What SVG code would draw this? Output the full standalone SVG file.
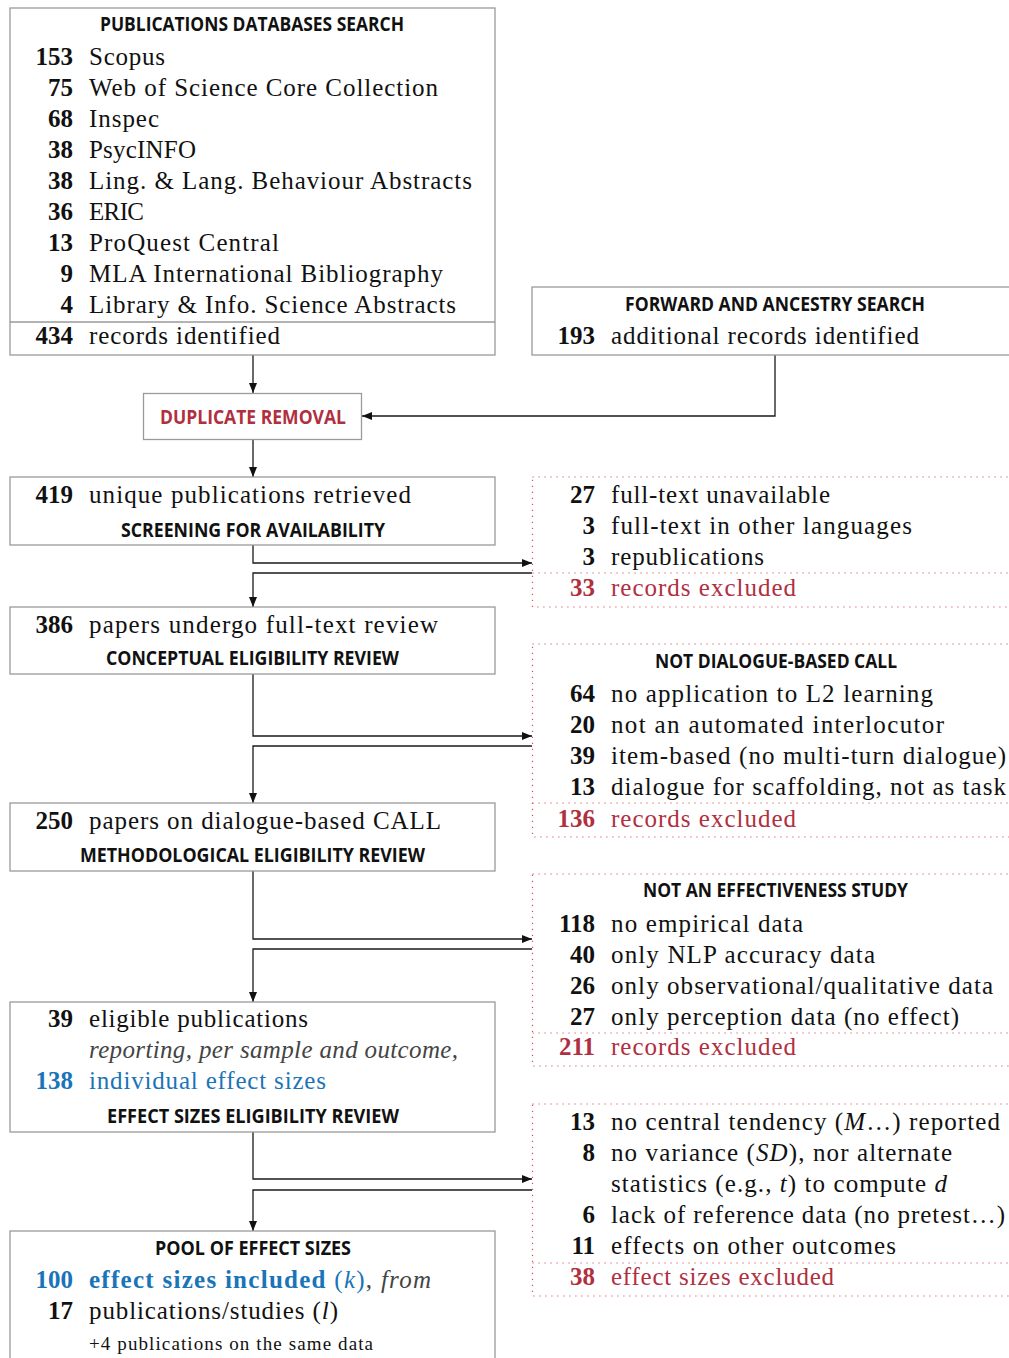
<svg xmlns="http://www.w3.org/2000/svg" width="1009" height="1358" viewBox="0 0 1009 1358">
<defs>
<marker id="arr" markerWidth="10" markerHeight="8" refX="10" refY="4" orient="auto" markerUnits="userSpaceOnUse">
<path d="M0,0 L10,4 L0,8 z" fill="#111"/>
</marker>
<style>
.box{fill:#fff;stroke:#9a9a9a;stroke-width:1.3}
.div{stroke:#9a9a9a;stroke-width:1.3}
.ex{fill:none;stroke:#d9505e;stroke-width:1.2;stroke-dasharray:1.2 4.8}
.exd{stroke:#d9505e;stroke-width:1.2;stroke-dasharray:1.2 4.8}
.con{fill:none;stroke:#1a1a1a;stroke-width:1.3}
.t{font-family:"Liberation Serif","Times New Roman",serif;font-size:25px;fill:#111}
.n{font-weight:bold;text-anchor:end}
.h{font-family:"Open Sans","Liberation Sans",sans-serif;font-weight:700;font-size:20px;fill:#111}
.red{fill:#b0303f}
.blue{fill:#1a74b8}
.it{font-style:italic}
.gray{fill:#444}
.sm{font-size:19px}
</style>
</defs>

<g id="connectors">
<path class="con" d="M253 355 V393" marker-end="url(#arr)"/>
<path class="con" d="M775 355 V416 H362" marker-end="url(#arr)"/>
<path class="con" d="M253 439 V477" marker-end="url(#arr)"/>
<path class="con" d="M253 545 V563 H532" marker-end="url(#arr)"/>
<path class="con" d="M532 573 H253 V607" marker-end="url(#arr)"/>
<path class="con" d="M253 674 V736 H532" marker-end="url(#arr)"/>
<path class="con" d="M532 746 H253 V803" marker-end="url(#arr)"/>
<path class="con" d="M253 871 V939 H532" marker-end="url(#arr)"/>
<path class="con" d="M532 949 H253 V1002" marker-end="url(#arr)"/>
<path class="con" d="M253 1132 V1179 H532" marker-end="url(#arr)"/>
<path class="con" d="M532 1190 H253 V1231" marker-end="url(#arr)"/>
</g>

<g id="databases">
<rect class="box" x="10" y="8" width="485" height="347"/>
<line class="div" x1="10" y1="322" x2="495" y2="322"/>
<text class="h" x="100" y="31" textLength="304" lengthAdjust="spacingAndGlyphs">PUBLICATIONS DATABASES SEARCH</text>
<text class="t n" x="73" y="65">153</text><text class="t" x="89" y="65" textLength="76" lengthAdjust="spacing">Scopus</text>
<text class="t n" x="73" y="96">75</text><text class="t" x="89" y="96" textLength="349" lengthAdjust="spacing">Web of Science Core Collection</text>
<text class="t n" x="73" y="127">68</text><text class="t" x="89" y="127" textLength="70" lengthAdjust="spacing">Inspec</text>
<text class="t n" x="73" y="158">38</text><text class="t" x="89" y="158" textLength="107" lengthAdjust="spacing">PsycINFO</text>
<text class="t n" x="73" y="189">38</text><text class="t" x="89" y="189" textLength="383" lengthAdjust="spacing">Ling. &amp; Lang. Behaviour Abstracts</text>
<text class="t n" x="73" y="220">36</text><text class="t" x="89" y="220" textLength="55" lengthAdjust="spacing">ERIC</text>
<text class="t n" x="73" y="251">13</text><text class="t" x="89" y="251" textLength="190" lengthAdjust="spacing">ProQuest Central</text>
<text class="t n" x="73" y="282">9</text><text class="t" x="89" y="282" textLength="354" lengthAdjust="spacing">MLA International Bibliography</text>
<text class="t n" x="73" y="313">4</text><text class="t" x="89" y="313" textLength="367" lengthAdjust="spacing">Library &amp; Info. Science Abstracts</text>
<text class="t n" x="73" y="344">434</text><text class="t" x="89" y="344" textLength="191" lengthAdjust="spacing">records identified</text>
</g>

<g id="forward">
<rect class="box" x="532" y="287" width="520" height="68"/>
<text class="h" x="625" y="311" textLength="300" lengthAdjust="spacingAndGlyphs">FORWARD AND ANCESTRY SEARCH</text>
<text class="t n" x="595" y="344">193</text><text class="t" x="611" y="344" textLength="308" lengthAdjust="spacing">additional records identified</text>
</g>

<g id="duplicate">
<rect class="box" x="143.5" y="393.5" width="218" height="46"/>
<text class="h red" x="160" y="424" textLength="186" lengthAdjust="spacingAndGlyphs">DUPLICATE REMOVAL</text>
</g>

<g id="screening">
<rect class="box" x="10" y="477" width="485" height="68"/>
<text class="t n" x="73" y="503">419</text><text class="t" x="89" y="503" textLength="322" lengthAdjust="spacing">unique publications retrieved</text>
<text class="h" x="121" y="537" textLength="264" lengthAdjust="spacingAndGlyphs">SCREENING FOR AVAILABILITY</text>
</g>

<g id="excl-availability">
<rect class="ex" x="532.5" y="477" width="520" height="130"/>
<line class="exd" x1="532.5" y1="573" x2="1052" y2="573"/>
<text class="t n" x="595" y="503">27</text><text class="t" x="611" y="503" textLength="219" lengthAdjust="spacing">full-text unavailable</text>
<text class="t n" x="595" y="534">3</text><text class="t" x="611" y="534" textLength="301" lengthAdjust="spacing">full-text in other languages</text>
<text class="t n" x="595" y="565">3</text><text class="t" x="611" y="565" textLength="153" lengthAdjust="spacing">republications</text>
<text class="t n red" x="595" y="596">33</text><text class="t red" x="611" y="596" textLength="185" lengthAdjust="spacing">records excluded</text>
</g>

<g id="conceptual">
<rect class="box" x="10" y="607" width="485" height="67"/>
<text class="t n" x="73" y="633">386</text><text class="t" x="89" y="633" textLength="349" lengthAdjust="spacing">papers undergo full-text review</text>
<text class="h" x="106" y="665" textLength="293" lengthAdjust="spacingAndGlyphs">CONCEPTUAL ELIGIBILITY REVIEW</text>
</g>

<g id="excl-conceptual">
<rect class="ex" x="532.5" y="644" width="520" height="193"/>
<line class="exd" x1="532.5" y1="803" x2="1052" y2="803"/>
<text class="h" x="655" y="668" textLength="242" lengthAdjust="spacingAndGlyphs">NOT DIALOGUE-BASED CALL</text>
<text class="t n" x="595" y="702">64</text><text class="t" x="611" y="702" textLength="322" lengthAdjust="spacing">no application to L2 learning</text>
<text class="t n" x="595" y="733">20</text><text class="t" x="611" y="733" textLength="333" lengthAdjust="spacing">not an automated interlocutor</text>
<text class="t n" x="595" y="764">39</text><text class="t" x="611" y="764" textLength="395" lengthAdjust="spacing">item-based (no multi-turn dialogue)</text>
<text class="t n" x="595" y="795">13</text><text class="t" x="611" y="795" textLength="395" lengthAdjust="spacing">dialogue for scaffolding, not as task</text>
<text class="t n red" x="595" y="827">136</text><text class="t red" x="611" y="827" textLength="185" lengthAdjust="spacing">records excluded</text>
</g>

<g id="methodological">
<rect class="box" x="10" y="803" width="485" height="68"/>
<text class="t n" x="73" y="829">250</text><text class="t" x="89" y="829" textLength="352" lengthAdjust="spacing">papers on dialogue-based CALL</text>
<text class="h" x="80" y="862" textLength="345" lengthAdjust="spacingAndGlyphs">METHODOLOGICAL ELIGIBILITY REVIEW</text>
</g>

<g id="excl-methodological">
<rect class="ex" x="532.5" y="874" width="520" height="192"/>
<line class="exd" x1="532.5" y1="1033" x2="1052" y2="1033"/>
<text class="h" x="643" y="897" textLength="265" lengthAdjust="spacingAndGlyphs">NOT AN EFFECTIVENESS STUDY</text>
<text class="t n" x="595" y="932">118</text><text class="t" x="611" y="932" textLength="192" lengthAdjust="spacing">no empirical data</text>
<text class="t n" x="595" y="963">40</text><text class="t" x="611" y="963" textLength="264" lengthAdjust="spacing">only NLP accuracy data</text>
<text class="t n" x="595" y="994">26</text><text class="t" x="611" y="994" textLength="382" lengthAdjust="spacing">only observational/qualitative data</text>
<text class="t n" x="595" y="1025">27</text><text class="t" x="611" y="1025" textLength="348" lengthAdjust="spacing">only perception data (no effect)</text>
<text class="t n red" x="595" y="1055">211</text><text class="t red" x="611" y="1055" textLength="185" lengthAdjust="spacing">records excluded</text>
</g>

<g id="effectsizes">
<rect class="box" x="10" y="1002" width="485" height="130"/>
<text class="t n" x="73" y="1027">39</text><text class="t" x="89" y="1027" textLength="219" lengthAdjust="spacing">eligible publications</text>
<text class="t it gray" x="89" y="1058" textLength="369" lengthAdjust="spacing">reporting, per sample and outcome,</text>
<text class="t n blue" x="73" y="1089">138</text><text class="t blue" x="89" y="1089" textLength="237" lengthAdjust="spacing">individual effect sizes</text>
<text class="h" x="107" y="1123" textLength="292" lengthAdjust="spacingAndGlyphs">EFFECT SIZES ELIGIBILITY REVIEW</text>
</g>

<g id="excl-effectsizes">
<rect class="ex" x="532.5" y="1104" width="520" height="192"/>
<line class="exd" x1="532.5" y1="1263" x2="1052" y2="1263"/>
<text class="t n" x="595" y="1130">13</text><text class="t" x="611" y="1130" textLength="389" lengthAdjust="spacing">no central tendency (<tspan class="it">M</tspan>…) reported</text>
<text class="t n" x="595" y="1161">8</text><text class="t" x="611" y="1161" textLength="341" lengthAdjust="spacing">no variance (<tspan class="it">SD</tspan>), nor alternate</text>
<text class="t" x="611" y="1192" textLength="336" lengthAdjust="spacing">statistics (e.g., <tspan class="it">t</tspan>) to compute <tspan class="it">d</tspan></text>
<text class="t n" x="595" y="1223">6</text><text class="t" x="611" y="1223" textLength="394" lengthAdjust="spacing">lack of reference data (no pretest…)</text>
<text class="t n" x="595" y="1254">11</text><text class="t" x="611" y="1254" textLength="285" lengthAdjust="spacing">effects on other outcomes</text>
<text class="t n red" x="595" y="1285">38</text><text class="t red" x="611" y="1285" textLength="223" lengthAdjust="spacing">effect sizes excluded</text>
</g>

<g id="pool">
<rect class="box" x="10" y="1231" width="485" height="150"/>
<text class="h" x="155" y="1255" textLength="196" lengthAdjust="spacingAndGlyphs">POOL OF EFFECT SIZES</text>
<text class="t n blue" x="73" y="1288">100</text><text class="t" x="89" y="1288" textLength="342" lengthAdjust="spacing"><tspan class="blue" font-weight="bold">effect sizes included</tspan><tspan class="blue"> (</tspan><tspan class="blue it">k</tspan><tspan class="blue">)</tspan><tspan class="gray">, </tspan><tspan class="gray it">from</tspan></text>
<text class="t n" x="73" y="1319">17</text><text class="t" x="89" y="1319" textLength="249" lengthAdjust="spacing">publications/studies (<tspan class="it">l</tspan>)</text>
<text class="t sm" x="89" y="1350" textLength="284" lengthAdjust="spacing">+4 publications on the same data</text>
</g>
</svg>
